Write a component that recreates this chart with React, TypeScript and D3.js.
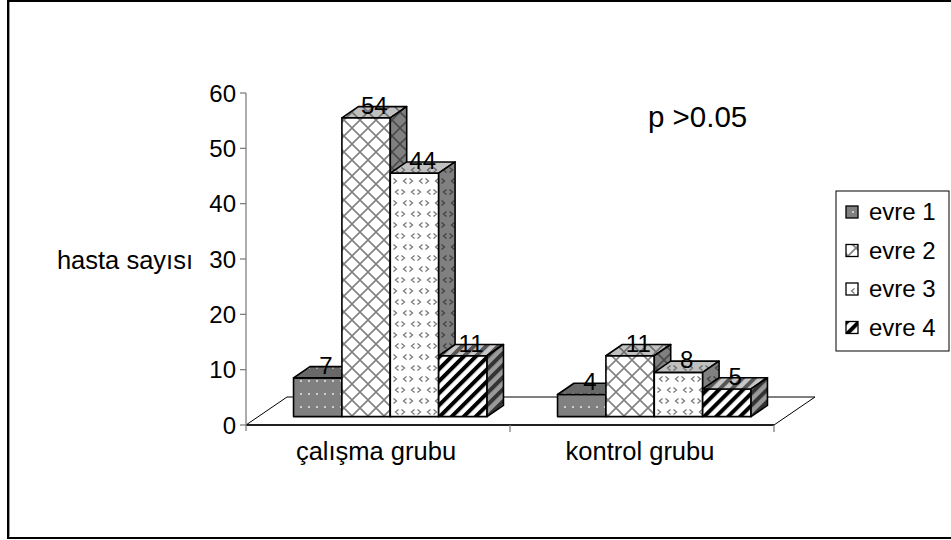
import React from "react";
import * as d3 from "d3";

// Chart data
const groups = ["çalışma grubu", "kontrol grubu"];
const stages = ["evre 1", "evre 2", "evre 3", "evre 4"];
const calismaValues = [7, 54, 44, 11];
const kontrolValues = [4, 11, 8, 5];
const yTicks = [0, 10, 20, 30, 40, 50, 60];
const yAxisTitle = "hasta sayısı";
const note = "p >0.05";

const W = 951;
const H = 540;
const FONT = "'Liberation Sans', Arial, Helvetica, sans-serif";

// Plot geometry (oblique 3D projection: depth runs up and to the right)
const AXIS_X = 246;
const PLOT_RIGHT = 774;
const Y_BOTTOM = 425;
const Y_TOP = 93;
const DEPTH = { x: 41, y: -28 };
const BAR_DEPTH_FROM = 0.3;
const BAR_DEPTH_TO = 0.7;
const GROUP_FRACTION = 0.733;

type Face = "front" | "top" | "side";

// Face shading per series: background + pattern ink
const faceColors: Record<string, Record<Face, { bg: string; ink: string }>> = {
  "evre 1": {
    front: { bg: "#808080", ink: "#e0e0e0" },
    top: { bg: "#686868", ink: "#b0b0b0" },
    side: { bg: "#505050", ink: "#9a9a9a" },
  },
  "evre 2": {
    front: { bg: "#ffffff", ink: "#808080" },
    top: { bg: "#c0c0c0", ink: "#707070" },
    side: { bg: "#808080", ink: "#4a4a4a" },
  },
  "evre 3": {
    front: { bg: "#ffffff", ink: "#7a7a7a" },
    top: { bg: "#c0c0c0", ink: "#686868" },
    side: { bg: "#808080", ink: "#404040" },
  },
  "evre 4": {
    front: { bg: "#ffffff", ink: "#000000" },
    top: { bg: "#c8c8c8", ink: "#555555" },
    side: { bg: "#9a9a9a", ink: "#333333" },
  },
};

const patternId = (si: number, face: Face) => `pat-${si}-${face}`;

function PatternDef({ si, face }: { si: number; face: Face }) {
  const { bg, ink } = faceColors[stages[si]][face];
  const id = patternId(si, face);
  if (si === 0) {
    return (
      <pattern id={id} patternUnits="userSpaceOnUse" width={16} height={13}>
        <rect width={16} height={13} fill={bg} />
        <circle cx={5} cy={4} r={1.1} fill={ink} />
        <circle cx={13} cy={4} r={1.1} fill={ink} />
      </pattern>
    );
  }
  if (si === 1) {
    return (
      <pattern id={id} patternUnits="userSpaceOnUse" width={16} height={16}>
        <rect width={16} height={16} fill={bg} />
        <path d="M0,0 L16,16 M16,0 L0,16" stroke={ink} strokeWidth={1.6} />
        <path d="M-2,14 L2,18 M14,-2 L18,2 M14,18 L18,14 M-2,2 L2,-2" stroke={ink} strokeWidth={1.6} />
      </pattern>
    );
  }
  if (si === 2) {
    return (
      <pattern id={id} patternUnits="userSpaceOnUse" width={16} height={22}>
        <rect width={16} height={22} fill={bg} />
        <path
          d="M6.5,2.5 L3.5,5 L6.5,7.5 M9.5,2.5 L12.5,5 L9.5,7.5 M1.5,13.5 L4.5,16 L1.5,18.5 M14.5,13.5 L11.5,16 L14.5,18.5"
          stroke={ink}
          strokeWidth={1.3}
          fill="none"
        />
      </pattern>
    );
  }
  return (
    <pattern
      id={id}
      patternUnits="userSpaceOnUse"
      width={8.5}
      height={8.5}
      patternTransform="rotate(45)"
    >
      <rect width={8.5} height={8.5} fill={bg} />
      <rect x={0} width={4} height={8.5} fill={ink} />
    </pattern>
  );
}

export default function App() {
  const yScale = d3.scaleLinear().domain([0, 60]).range([Y_BOTTOM, Y_TOP]);
  const xGroup = d3.scaleBand<string>().domain(groups).range([AXIS_X, PLOT_RIGHT]).padding(0);
  const bandW = xGroup.bandwidth();
  const groupW = bandW * GROUP_FRACTION;
  const xStage = d3.scaleBand<string>().domain(stages).range([0, groupW]).padding(0);
  const barW = xStage.bandwidth();

  const front = { x: DEPTH.x * BAR_DEPTH_FROM, y: DEPTH.y * BAR_DEPTH_FROM };
  const depth = {
    x: DEPTH.x * (BAR_DEPTH_TO - BAR_DEPTH_FROM),
    y: DEPTH.y * (BAR_DEPTH_TO - BAR_DEPTH_FROM),
  };

  const seriesByGroup = [calismaValues, kontrolValues];

  const pts = (p: [number, number][]) => p.map((q) => q.join(",")).join(" ");

  const bars = groups.flatMap((g, gi) =>
    stages.map((s, si) => {
      const v = seriesByGroup[gi][si];
      const x0 = (xGroup(g) as number) + front.x + (bandW - groupW) / 2 + (xStage(s) as number);
      const x1 = x0 + barW;
      const yb = yScale(0) + front.y;
      const yt = yScale(v) + front.y;
      return { key: `${gi}-${si}`, si, v, x0, x1, yb, yt };
    })
  );

  const floor: [number, number][] = [
    [AXIS_X, Y_BOTTOM],
    [PLOT_RIGHT, Y_BOTTOM],
    [PLOT_RIGHT + DEPTH.x, Y_BOTTOM + DEPTH.y],
    [AXIS_X + DEPTH.x, Y_BOTTOM + DEPTH.y],
  ];

  const legendX = 836;
  const legendY = 191;
  const legendW = 113;
  const legendH = 160;
  const legendRow = 38.5;
  const legendBase0 = 220;

  return (
    <svg
      width={W}
      height={H}
      viewBox={`0 0 ${W} ${H}`}
      style={{ position: "absolute", left: 0, top: 0, background: "#fff" }}
      fontFamily={FONT}
    >
      <defs>
        {stages.map((_, si) =>
          (["front", "top", "side"] as Face[]).map((f) => <PatternDef key={`${si}-${f}`} si={si} face={f} />)
        )}
      </defs>

      {/* chart frame */}
      <rect x={8} y={1} width={W + 10} height={537} fill="#fff" stroke="#000" strokeWidth={2} />
      <line x1={9.5} y1={2} x2={9.5} y2={536.5} stroke="#9a9a9a" strokeWidth={1} />

      {/* floor */}
      <polygon points={pts(floor)} fill="#fff" stroke="#000" strokeWidth={1} />
      <line x1={AXIS_X} y1={Y_BOTTOM} x2={PLOT_RIGHT} y2={Y_BOTTOM} stroke="#000" strokeWidth={1.3} />

      {/* value axis */}
      <line x1={AXIS_X} y1={Y_TOP} x2={AXIS_X} y2={Y_BOTTOM + 6} stroke="#808080" strokeWidth={1.3} />
      {yTicks.map((t) => (
        <g key={t}>
          <line x1={AXIS_X - 6} y1={yScale(t)} x2={AXIS_X} y2={yScale(t)} stroke="#808080" strokeWidth={1.3} />
          <text x={AXIS_X - 10} y={yScale(t) + 8.5} textAnchor="end" fontSize={24} fill="#000">
            {t}
          </text>
        </g>
      ))}

      {/* category ticks and labels */}
      {groups.map((g) => (
        <line
          key={`tick-${g}`}
          x1={(xGroup(g) as number) + bandW}
          y1={Y_BOTTOM}
          x2={(xGroup(g) as number) + bandW}
          y2={Y_BOTTOM + 7}
          stroke="#808080"
          strokeWidth={1.3}
        />
      ))}
      {groups.map((g) => (
        <text
          key={`lab-${g}`}
          x={(xGroup(g) as number) + bandW / 2 - 2}
          y={460}
          textAnchor="middle"
          fontSize={25.5}
          fill="#000"
        >
          {g}
        </text>
      ))}

      {/* bars */}
      {bars.map((b) => {
        const frontPts: [number, number][] = [
          [b.x0, b.yb],
          [b.x0, b.yt],
          [b.x1, b.yt],
          [b.x1, b.yb],
        ];
        const topPts: [number, number][] = [
          [b.x0, b.yt],
          [b.x1, b.yt],
          [b.x1 + depth.x, b.yt + depth.y],
          [b.x0 + depth.x, b.yt + depth.y],
        ];
        const sidePts: [number, number][] = [
          [b.x1, b.yb],
          [b.x1, b.yt],
          [b.x1 + depth.x, b.yt + depth.y],
          [b.x1 + depth.x, b.yb + depth.y],
        ];
        return (
          <g key={b.key} stroke="#000" strokeWidth={1.6} strokeLinejoin="round">
            <polygon points={pts(frontPts)} fill={`url(#${patternId(b.si, "front")})`} />
            <polygon points={pts(topPts)} fill={`url(#${patternId(b.si, "top")})`} />
            <polygon points={pts(sidePts)} fill={`url(#${patternId(b.si, "side")})`} />
          </g>
        );
      })}

      {/* value labels */}
      {bars.map((b) => (
        <text
          key={`v-${b.key}`}
          x={(b.x0 + b.x1) / 2 + depth.x / 2}
          y={b.yt - 4}
          textAnchor="middle"
          fontSize={24}
          fill="#000"
        >
          {b.v}
        </text>
      ))}

      {/* axis title and note */}
      <text x={193} y={269} textAnchor="end" fontSize={25.5} fill="#000">
        {yAxisTitle}
      </text>
      <text x={648} y={127} fontSize={29.5} fill="#000">
        {note}
      </text>

      {/* legend */}
      <rect x={legendX} y={legendY} width={legendW} height={legendH} fill="#fff" stroke="#000" strokeWidth={1} />
      {stages.map((s, si) => {
        const base = legendBase0 + si * legendRow;
        return (
          <g key={`leg-${s}`}>
            <rect
              x={846}
              y={base - 14}
              width={12}
              height={12}
              fill={`url(#${patternId(si, "front")})`}
              stroke="#000"
              strokeWidth={1.3}
            />
            <text x={869} y={base} fontSize={24} fill="#000">
              {s}
            </text>
          </g>
        );
      })}
    </svg>
  );
}
